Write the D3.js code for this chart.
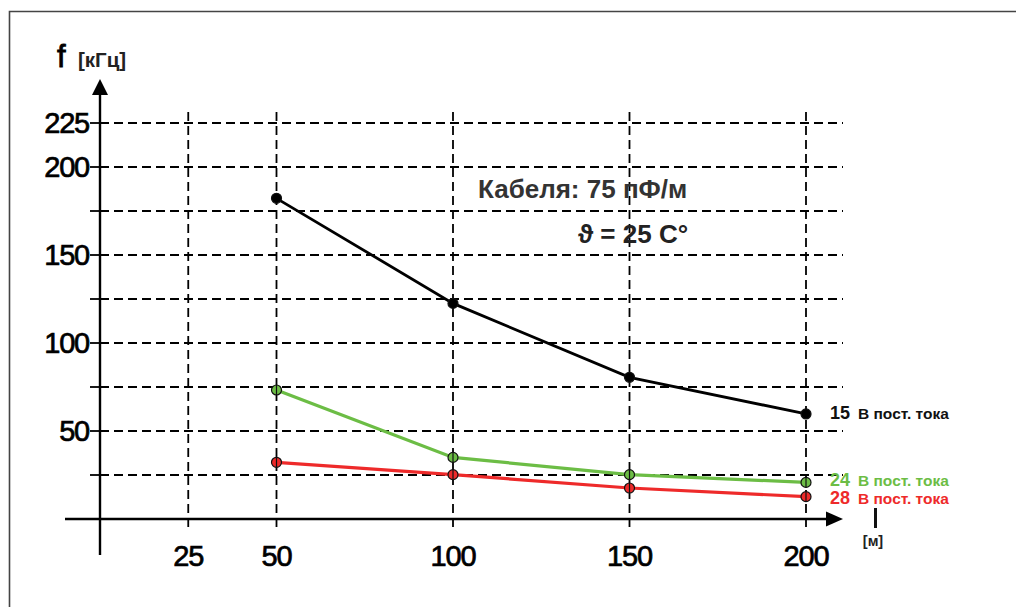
<!DOCTYPE html>
<html><head><meta charset="utf-8">
<script src="https://cdn.jsdelivr.net/npm/d3@7/dist/d3.min.js"></script>
<style>body{margin:0;background:#fff}svg{display:block}</style>
</head><body>
<svg id="c" width="1016" height="607"></svg>
<script>
const lengths = [50, 100, 150, 200];
const series15 = [182.2, 122.5, 80.5, 59.7];
const series24 = [73.3, 35.0, 25.2, 20.8];
const series28 = [32.2, 25.2, 17.6, 12.7];
const seriesNames = ["15", "24", "28"];
const seriesUnit = "В пост. тока";
const yTickLabels = [50, 100, 150, 200, 225];
const yGrid = [25, 50, 75, 100, 125, 150, 175, 200, 225];
const xTickLabels = [25, 50, 100, 150, 200];
const note1 = "Кабеля: 75 пФ/м";
const note2 = "ϑ = 25 C°";

const svg = d3.select("#c");
const x = d3.scaleLinear().domain([0, 200]).range([100, 806]);
const y = d3.scaleLinear().domain([0, 225]).range([519, 123]);
const font = "'Liberation Sans', Arial, sans-serif";

// frame
svg.append("path").attr("d", "M9.5,620 V11.5 H1030").attr("fill", "none")
  .attr("stroke", "#444").attr("stroke-width", 1.6);

// horizontal grid
const dash = "9,5";
svg.append("g").selectAll("line").data(yGrid).join("line")
  .attr("x1", 100).attr("x2", 843).attr("y1", d => y(d)).attr("y2", d => y(d))
  .attr("stroke", "#000").attr("stroke-width", 1.8).attr("stroke-dasharray", dash);
svg.append("g").selectAll("line").data(yGrid).join("line")
  .attr("x1", 90).attr("x2", 100).attr("y1", d => y(d)).attr("y2", d => y(d))
  .attr("stroke", "#000").attr("stroke-width", 1.8);
// vertical grid
svg.append("g").selectAll("line").data(xTickLabels).join("line")
  .attr("x1", d => x(d)).attr("x2", d => x(d)).attr("y1", 112).attr("y2", 532)
  .attr("stroke", "#000").attr("stroke-width", 1.8).attr("stroke-dasharray", dash);

// axes
svg.append("line").attr("x1", 65).attr("x2", 830).attr("y1", y(0)).attr("y2", y(0))
  .attr("stroke", "#000").attr("stroke-width", 2.4);
svg.append("path").attr("d", `M826,${y(0)-7.5} L843,${y(0)} L826,${y(0)+7.5} Z`).attr("fill", "#000");
svg.append("line").attr("x1", x(0)).attr("x2", x(0)).attr("y1", 555).attr("y2", 92)
  .attr("stroke", "#000").attr("stroke-width", 2.4);
svg.append("path").attr("d", `M${x(0)-8},95 L${x(0)},79 L${x(0)+8},95 Z`).attr("fill", "#000");

// y tick labels
svg.append("g").selectAll("text").data(yTickLabels).join("text")
  .attr("x", 89).attr("y", d => y(d)).attr("dy", "0.36em")
  .attr("text-anchor", "end").attr("font-family", font).attr("font-size", 29)
  .attr("letter-spacing", -1.2).attr("fill", "#000")
  .attr("stroke", "#000").attr("stroke-width", 0.7).text(d => d);
// x tick labels
svg.append("g").selectAll("text").data(xTickLabels).join("text")
  .attr("x", d => x(d)).attr("y", 566)
  .attr("text-anchor", "middle").attr("font-family", font).attr("font-size", 29)
  .attr("letter-spacing", -1.2).attr("fill", "#000")
  .attr("stroke", "#000").attr("stroke-width", 0.7).text(d => d);

// axis titles
svg.append("text").attr("x", 57).attr("y", 67).attr("font-family", font)
  .attr("font-size", 31).attr("fill", "#000").attr("stroke", "#000").attr("stroke-width", 0.8).text("f");
svg.append("text").attr("x", 78).attr("y", 67).attr("font-family", font)
  .attr("font-size", 20.5).attr("font-weight", "bold").attr("fill", "#222").text("[кГц]");
svg.append("text").attr("x", 873).attr("y", 546).attr("text-anchor", "middle").attr("font-family", font)
  .attr("font-size", 14.5).attr("font-weight", "bold").attr("fill", "#222").text("[м]");
svg.append("line").attr("x1", 875.5).attr("x2", 875.5).attr("y1", 508).attr("y2", 528)
  .attr("stroke", "#111").attr("stroke-width", 3);

// notes
svg.append("text").attr("x", 478).attr("y", 198).attr("font-family", font)
  .attr("font-size", 26).attr("font-weight", "bold").attr("fill", "#333").text(note1);
svg.append("text").attr("x", 578).attr("y", 243).attr("font-family", font)
  .attr("font-size", 26).attr("font-weight", "bold").attr("fill", "#222").text(note2);

// series
const allSeries = [
  {name: seriesNames[0], values: series15, color: "#000", marker: "#000", w: 2.8, bar: false, labelY: 413},
  {name: seriesNames[1], values: series24, color: "#6cbd45", marker: "#6cbd45", w: 3.2, bar: true, labelY: 480},
  {name: seriesNames[2], values: series28, color: "#ee2a2a", marker: "#ee2a2a", w: 3.2, bar: true, labelY: 498.5}
];
const line = d3.line().x(d => x(d[0])).y(d => y(d[1]));
allSeries.slice().reverse().forEach(s => {
  const pts = lengths.map((l, i) => [l, s.values[i]]);
  svg.append("path").datum(pts).attr("d", line).attr("fill", "none")
    .attr("stroke", s.color).attr("stroke-width", s.w);
});
allSeries.forEach(s => {
  const pts = lengths.map((l, i) => [l, s.values[i]]);
  const g = svg.append("g");
  g.selectAll("circle").data(pts).join("circle")
    .attr("cx", d => x(d[0])).attr("cy", d => y(d[1])).attr("r", 5)
    .attr("fill", s.marker).attr("stroke", "#111").attr("stroke-width", 1.2);
  if (s.bar) {
    g.selectAll("line").data(pts).join("line")
      .attr("x1", d => x(d[0])).attr("x2", d => x(d[0]))
      .attr("y1", d => y(d[1]) - 5).attr("y2", d => y(d[1]) + 5)
      .attr("stroke", "#111").attr("stroke-width", 1.2);
  }
  const t = svg.append("text").attr("x", 830).attr("y", s.labelY).attr("dy", "0.36em")
    .attr("font-family", font).attr("font-weight", "bold").attr("fill", s.color === "#000" ? "#111" : s.color);
  t.append("tspan").attr("font-size", 18).text(s.name);
  t.append("tspan").attr("x", 858).attr("font-size", 15.5).text(seriesUnit);
});
</script>
</body></html>
